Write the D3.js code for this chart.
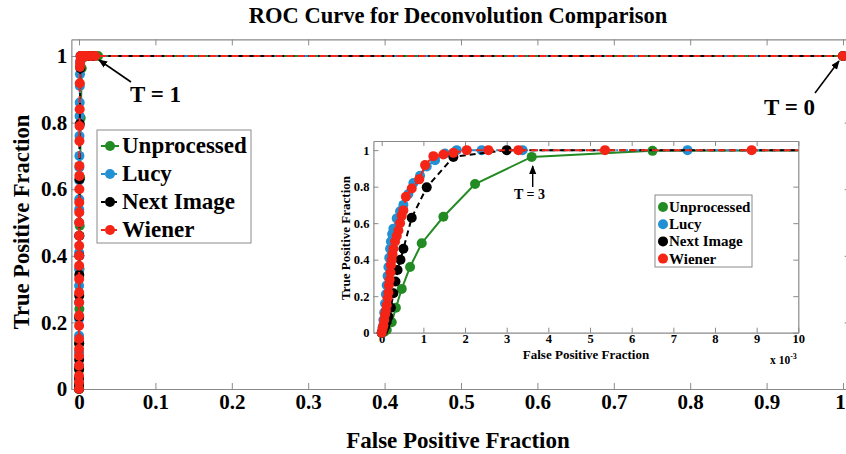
<!DOCTYPE html>
<html><head><meta charset="utf-8">
<script src="https://cdn.jsdelivr.net/npm/d3@7"></script>
<style>
html,body{margin:0;padding:0;background:#fff;}
svg{display:block;}
text{font-family:"Liberation Serif","Times New Roman",serif;font-weight:bold;fill:#000;}
</style></head>
<body>
<svg id="chart" width="846" height="454"></svg>
<script>
// ---- Data (FPF as fractions, TPF as fractions) ----
const seriesNames = ["Unprocessed", "Lucy", "Next Image", "Wiener"];
const seriesColors = ["#238b23", "#2390d4", "#000000", "#f42416"];

const unprocFPF = [0, 0.00006, 0.00012, 0.00024, 0.00034, 0.00048, 0.00068, 0.00096, 0.00148, 0.00224, 0.0036, 0.0065, 0.014, 0.025, 1];
const unprocTPF = [0, 0.005, 0.015, 0.057, 0.137, 0.24, 0.36, 0.49, 0.635, 0.814, 0.963, 0.996, 1, 1, 1];

const lucyFPF = [0, 0.00002, 0.00004, 0.00006, 0.00008, 0.0001, 0.00012, 0.00014, 0.00016, 0.00018, 0.0002, 0.00022, 0.00025, 0.00028, 0.00036, 0.00044, 0.00052, 0.00064, 0.00076, 0.00092, 0.00108, 0.00128, 0.00152, 0.0018, 0.0024, 0.00338, 0.00734, 0.013, 0.019, 1];
const lucyTPF = [0, 0.03, 0.07, 0.11, 0.16, 0.21, 0.26, 0.31, 0.36, 0.41, 0.46, 0.5, 0.54, 0.57, 0.626, 0.665, 0.7, 0.76, 0.82, 0.86, 0.91, 0.945, 0.982, 1, 1, 1, 1, 1, 1, 1];

const nextFPF = [0, 0.00004, 0.00008, 0.00012, 0.00016, 0.00022, 0.00028, 0.00033, 0.00038, 0.00045, 0.00052, 0.00072, 0.00108, 0.00172, 0.003, 0.012, 0.018, 1];
const nextTPF = [0, 0.012, 0.033, 0.06, 0.088, 0.137, 0.216, 0.28, 0.343, 0.4, 0.46, 0.63, 0.796, 0.963, 1, 1, 1, 1];

const wienerFPF = [0, 0.00002, 0.00004, 0.00006, 0.00008, 0.0001, 0.00012, 0.00014, 0.00016, 0.00017, 0.00019, 0.00021, 0.00022, 0.00024, 0.00026, 0.00028, 0.00032, 0.00036, 0.0004, 0.00044, 0.00048, 0.00052, 0.00058, 0.00072, 0.0009, 0.00104, 0.00124, 0.00148, 0.00172, 0.00204, 0.00256, 0.00328, 0.00536, 0.00888, 0.011, 0.016, 0.021, 1];
const wienerTPF = [0, 0.02, 0.04, 0.07, 0.1, 0.12, 0.15, 0.19, 0.22, 0.26, 0.29, 0.33, 0.37, 0.4, 0.43, 0.46, 0.5, 0.53, 0.56, 0.6, 0.64, 0.67, 0.745, 0.79, 0.84, 0.918, 0.967, 0.976, 0.985, 1, 1, 1, 1, 1, 1, 1, 1, 1];

const mainXTicks = [0, 0.1, 0.2, 0.3, 0.4, 0.5, 0.6, 0.7, 0.8, 0.9, 1];
const mainYTicks = [0, 0.2, 0.4, 0.6, 0.8, 1];
const insetXTicks = [0, 0.001, 0.002, 0.003, 0.004, 0.005, 0.006, 0.007, 0.008, 0.009, 0.01];
const insetYTicks = [0, 0.2, 0.4, 0.6, 0.8, 1];

const series = [
  {name: seriesNames[0], color: seriesColors[0], dash: null, fpf: unprocFPF, tpf: unprocTPF},
  {name: seriesNames[1], color: seriesColors[1], dash: "7,3,2,3", fpf: lucyFPF, tpf: lucyTPF},
  {name: seriesNames[2], color: seriesColors[2], dash: "6,4", fpf: nextFPF, tpf: nextTPF},
  {name: seriesNames[3], color: seriesColors[3], dash: "7,4", fpf: wienerFPF, tpf: wienerTPF}
].map(s => ({...s, pts: s.fpf.map((v, i) => ({x: v, y: s.tpf[i]}))}));

const svg = d3.select("#chart");
const fmt = d => d3.format("~g")(d);
const axisColor = "#8a8a8a";

const defs = svg.append("defs");
defs.append("marker").attr("id", "arrow").attr("viewBox", "0 0 10 10")
  .attr("refX", 9).attr("refY", 5).attr("markerWidth", 9).attr("markerHeight", 9)
  .attr("markerUnits", "userSpaceOnUse").attr("orient", "auto")
  .append("path").attr("d", "M0,1 L10,5 L0,9 Z").attr("fill", "#000");

// ---- Main axes ----
const M = {left: 71.36, right: 850.64, top: 39.35, bottom: 389};
const x = d3.scaleLinear().domain([-0.01, 1.01]).range([M.left, M.right]);
const y = d3.scaleLinear().domain([0, 1.05]).range([M.bottom, M.top]);

svg.append("text").attr("x", 458).attr("y", 23).attr("text-anchor", "middle")
  .style("font-size", "22.5px").text("ROC Curve for Deconvolution Comparison");

function styleAxis(g, fs) {
  g.selectAll("path.domain").attr("stroke", axisColor).attr("stroke-width", 1.2);
  g.selectAll(".tick line").attr("stroke", axisColor);
  g.selectAll(".tick text").attr("fill", "#000")
    .style("font-family", '"Liberation Serif", serif').style("font-weight", "bold").style("font-size", fs);
}

const gm = svg.append("g");
gm.append("g").attr("transform", `translate(0,${M.bottom})`)
  .call(d3.axisBottom(x).tickValues(mainXTicks).tickFormat(fmt).tickSize(-6).tickSizeOuter(0).tickPadding(5))
  .call(g => styleAxis(g, "21px"))
  .call(g => g.selectAll(".tick text").filter(d => d === 1).attr("dx", -3));
gm.append("g").attr("transform", `translate(0,${M.top})`)
  .call(d3.axisTop(x).tickValues(mainXTicks).tickFormat("").tickSize(-6).tickSizeOuter(0))
  .call(g => styleAxis(g, "21px"));
gm.append("g").attr("transform", `translate(${M.left},0)`)
  .call(d3.axisLeft(y).tickValues(mainYTicks).tickFormat(fmt).tickSize(-6).tickSizeOuter(0).tickPadding(4))
  .call(g => styleAxis(g, "21px"));
gm.append("g").attr("transform", `translate(${M.right},0)`)
  .call(d3.axisRight(y).tickValues(mainYTicks).tickFormat("").tickSize(-6).tickSizeOuter(0))
  .call(g => styleAxis(g, "21px"));

svg.append("text").attr("x", 458).attr("y", 448).attr("text-anchor", "middle")
  .style("font-size", "23px").text("False Positive Fraction");
svg.append("text").attr("transform", "translate(29,222) rotate(-90)").attr("text-anchor", "middle")
  .style("font-size", "22.5px").text("True Positive Fraction");

const line = d3.line().x(d => x(d.x)).y(d => y(d.y));
series.forEach(s => {
  gm.append("path").datum(s.pts).attr("d", line).attr("fill", "none")
    .attr("stroke", s.color).attr("stroke-width", 2).attr("stroke-dasharray", s.dash);
  gm.append("g").selectAll("circle").data(s.pts).join("circle")
    .attr("cx", d => x(d.x)).attr("cy", d => y(d.y)).attr("r", 5).attr("fill", s.color);
});

// annotations main
svg.append("line").attr("x1", 131).attr("y1", 82).attr("x2", 99).attr("y2", 60)
  .attr("stroke", "#000").attr("stroke-width", 1.6).attr("marker-end", "url(#arrow)");
svg.append("text").attr("x", 130).attr("y", 102).style("font-size", "23px").text("T = 1");
svg.append("line").attr("x1", 815).attr("y1", 93).attr("x2", 839).attr("y2", 61)
  .attr("stroke", "#000").attr("stroke-width", 1.6).attr("marker-end", "url(#arrow)");
svg.append("text").attr("x", 764).attr("y", 115).style("font-size", "23px").text("T = 0");

// main legend
const lg = svg.append("g");
lg.append("rect").attr("x", 97).attr("y", 130).attr("width", 154).attr("height", 113)
  .attr("fill", "#fff").attr("stroke", axisColor).attr("stroke-width", 1);
series.forEach((s, i) => {
  const cy = 146 + i * 28;
  lg.append("line").attr("x1", 101).attr("x2", 119).attr("y1", cy).attr("y2", cy)
    .attr("stroke", s.color).attr("stroke-width", 2).attr("stroke-dasharray", s.dash ? "4,2" : null);
  lg.append("circle").attr("cx", 110).attr("cy", cy).attr("r", 5).attr("fill", s.color);
  lg.append("text").attr("x", 122).attr("y", cy + 7).style("font-size", "23px").text(s.name);
});

// ---- Inset axes ----
const I = {left: 373.4, right: 798.3, top: 141, bottom: 332.7};
const xi = d3.scaleLinear().domain([-0.0002, 0.01]).range([I.left, I.right]);
const yi = d3.scaleLinear().domain([0, 1.05]).range([I.bottom, I.top]);
const gi = svg.append("g");
gi.append("rect").attr("x", I.left).attr("y", I.top).attr("width", I.right - I.left).attr("height", I.bottom - I.top).attr("fill", "#fff");
defs.append("clipPath").attr("id", "insetClip").append("rect")
  .attr("x", I.left).attr("y", I.top).attr("width", I.right - I.left).attr("height", I.bottom - I.top);

gi.append("g").attr("transform", `translate(0,${I.bottom})`)
  .call(d3.axisBottom(xi).tickValues(insetXTicks).tickFormat(d => fmt(d * 1000)).tickSize(-5).tickSizeOuter(0).tickPadding(1.5))
  .call(g => styleAxis(g, "12.5px"));
gi.append("g").attr("transform", `translate(0,${I.top})`)
  .call(d3.axisTop(xi).tickValues(insetXTicks).tickFormat("").tickSize(-5).tickSizeOuter(0))
  .call(g => styleAxis(g, "12.5px"));
gi.append("g").attr("transform", `translate(${I.left},0)`)
  .call(d3.axisLeft(yi).tickValues(insetYTicks).tickFormat(fmt).tickSize(-5).tickSizeOuter(0).tickPadding(4))
  .call(g => styleAxis(g, "12.5px"));
gi.append("g").attr("transform", `translate(${I.right},0)`)
  .call(d3.axisRight(yi).tickValues(insetYTicks).tickFormat("").tickSize(-5).tickSizeOuter(0))
  .call(g => styleAxis(g, "12.5px"));

gi.append("text").attr("x", 586).attr("y", 358.5).attr("text-anchor", "middle")
  .style("font-size", "13px").text("False Positive Fraction");
gi.append("text").attr("transform", "translate(350,238) rotate(-90)").attr("text-anchor", "middle")
  .style("font-size", "13px").text("True Positive Fraction");
const xt = gi.append("text").attr("x", 770).attr("y", 364).style("font-size", "11.5px");
xt.append("tspan").text("x 10");
xt.append("tspan").attr("dy", -5).style("font-size", "8px").text("-3");

const linei = d3.line().x(d => xi(d.x)).y(d => yi(d.y));
series.forEach(s => {
  gi.append("path").datum(s.pts).attr("d", linei).attr("fill", "none").attr("clip-path", "url(#insetClip)")
    .attr("stroke", s.color).attr("stroke-width", 2).attr("stroke-dasharray", s.dash);
  gi.append("g").selectAll("circle").data(s.pts.filter(d => d.x <= 0.01)).join("circle")
    .attr("cx", d => xi(d.x)).attr("cy", d => yi(d.y)).attr("r", 5).attr("fill", s.color);
});

gi.append("line").attr("x1", 532.7).attr("y1", 187).attr("x2", 532.7).attr("y2", 166)
  .attr("stroke", "#000").attr("stroke-width", 1.4).attr("marker-end", "url(#arrow)");
gi.append("text").attr("x", 514).attr("y", 199).style("font-size", "14px").text("T = 3");

// inset legend
const il = gi.append("g");
il.append("rect").attr("x", 655).attr("y", 195).attr("width", 97).attr("height", 72)
  .attr("fill", "#fff").attr("stroke", axisColor).attr("stroke-width", 1);
series.forEach((s, i) => {
  const cy = 207 + i * 17.2;
  il.append("circle").attr("cx", 663).attr("cy", cy).attr("r", 5).attr("fill", s.color);
  il.append("text").attr("x", 669).attr("y", cy + 5).style("font-size", "15px").text(s.name);
});
</script>
</body></html>
